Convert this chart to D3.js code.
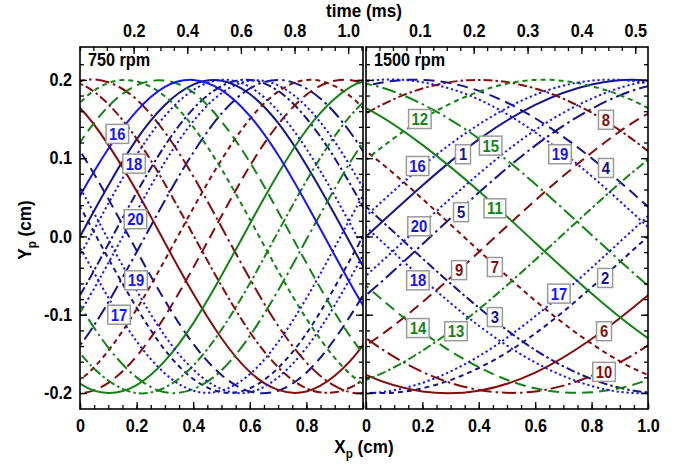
<!DOCTYPE html>
<html><head><meta charset="utf-8">
<script src="https://cdn.jsdelivr.net/npm/d3@7"></script>
<style>
html,body{margin:0;padding:0;background:#fff;}
svg{display:block;}
text{font-family:"Liberation Sans",Arial,Helvetica,sans-serif;font-weight:bold;}
</style></head><body>
<svg id="chart" width="683" height="466"></svg>
<script>
// ---------------- data ----------------
const curveIds = d3.range(1, 21);
const xLeft  = [-0.1, 0, 0.1, 0.2, 0.3, 0.4, 0.5, 0.6, 0.7, 0.8, 0.9, 1.0, 1.1];
const xRight = [-0.2, 0, 0.2, 0.4, 0.6, 0.8, 1.0, 1.2];

// 750 rpm panel : Y_p (cm) of trajectories 1..20 at xLeft
const yLeft = [
 [-0.065, 0, 0.065, 0.124, 0.168, 0.194, 0.199, 0.182, 0.145, 0.091, 0.028, -0.038, -0.100],
 [0.100, 0.038, -0.028, -0.091, -0.145, -0.182, -0.199, -0.194, -0.168, -0.124, -0.065, 0, 0.065],
 [-0.131, -0.075, -0.010, 0.056, 0.116, 0.163, 0.192, 0.200, 0.186, 0.151, 0.100, 0.038, -0.028],
 [0.158, 0.109, 0.048, -0.018, -0.082, -0.137, -0.177, -0.198, -0.197, -0.174, -0.131, -0.075, -0.010],
 [-0.178, -0.139, -0.084, -0.020, 0.046, 0.107, 0.157, 0.189, 0.200, 0.189, 0.158, 0.109, 0.048],
 [0.192, 0.164, 0.117, 0.058, -0.008, -0.073, -0.130, -0.173, -0.196, -0.198, -0.178, -0.139, -0.084],
 [-0.199, -0.183, -0.146, -0.093, -0.030, 0.036, 0.098, 0.150, 0.185, 0.200, 0.192, 0.164, 0.117],
 [0.199, 0.195, 0.169, 0.125, 0.067, 0.002, -0.063, -0.122, -0.167, -0.194, -0.199, -0.183, -0.146],
 [-0.191, -0.200, -0.187, -0.153, -0.102, -0.040, 0.026, 0.090, 0.143, 0.181, 0.199, 0.195, 0.169],
 [0.176, 0.198, 0.197, 0.175, 0.133, 0.077, 0.012, -0.054, -0.114, -0.161, -0.191, -0.200, -0.187],
 [-0.155, -0.188, -0.200, -0.190, -0.159, -0.111, -0.050, 0.016, 0.080, 0.136, 0.176, 0.198, 0.197],
 [0.128, 0.171, 0.196, 0.198, 0.179, 0.140, 0.086, 0.022, -0.044, -0.105, -0.155, -0.188, -0.200],
 [-0.097, -0.149, -0.184, -0.200, -0.193, -0.165, -0.119, -0.060, 0.006, 0.071, 0.128, 0.171, 0.196],
 [0.061, 0.120, 0.166, 0.193, 0.199, 0.184, 0.147, 0.095, 0.032, -0.034, -0.097, -0.149, -0.184],
 [-0.024, -0.088, -0.142, -0.180, -0.199, -0.195, -0.171, -0.127, -0.069, -0.004, 0.061, 0.120, 0.166],
 [-0.014, 0.052, 0.112, 0.160, 0.191, 0.200, 0.187, 0.154, 0.104, 0.042, -0.024, -0.088, -0.142],
 [0.052, -0.014, -0.078, -0.134, -0.175, -0.197, -0.197, -0.176, -0.135, -0.079, -0.014, 0.052, 0.112],
 [-0.088, -0.024, 0.042, 0.104, 0.154, 0.187, 0.200, 0.191, 0.160, 0.112, 0.052, -0.014, -0.078],
 [0.121, 0.062, -0.004, -0.069, -0.127, -0.170, -0.195, -0.199, -0.180, -0.142, -0.088, -0.024, 0.042],
 [-0.149, -0.097, -0.034, 0.032, 0.095, 0.147, 0.183, 0.199, 0.193, 0.166, 0.121, 0.062, -0.004]
];

// 1500 rpm panel : Y_p (cm) of trajectories 1..20 at xRight
const yRight = [
 [-0.065, 0, 0.065, 0.124, 0.168, 0.194, 0.199, 0.182],
 [-0.182, -0.199, -0.194, -0.168, -0.124, -0.065, 0, 0.065],
 [0.100, 0.038, -0.028, -0.091, -0.145, -0.182, -0.199, -0.194],
 [0.163, 0.192, 0.200, 0.186, 0.151, 0.100, 0.038, -0.028],
 [-0.131, -0.075, -0.010, 0.056, 0.116, 0.163, 0.192, 0.200],
 [-0.137, -0.177, -0.198, -0.197, -0.174, -0.131, -0.075, -0.010],
 [0.158, 0.109, 0.048, -0.018, -0.082, -0.137, -0.177, -0.198],
 [0.107, 0.157, 0.189, 0.200, 0.189, 0.158, 0.109, 0.048],
 [-0.178, -0.139, -0.084, -0.020, 0.046, 0.107, 0.157, 0.189],
 [-0.073, -0.130, -0.173, -0.196, -0.198, -0.178, -0.139, -0.084],
 [0.192, 0.164, 0.117, 0.058, -0.008, -0.073, -0.130, -0.173],
 [0.036, 0.098, 0.150, 0.185, 0.200, 0.192, 0.164, 0.117],
 [-0.199, -0.183, -0.146, -0.093, -0.030, 0.036, 0.098, 0.150],
 [0.002, -0.063, -0.122, -0.167, -0.194, -0.199, -0.183, -0.146],
 [0.199, 0.195, 0.169, 0.125, 0.067, 0.002, -0.063, -0.122],
 [-0.040, 0.026, 0.090, 0.143, 0.181, 0.199, 0.195, 0.169],
 [-0.191, -0.200, -0.187, -0.153, -0.102, -0.040, 0.026, 0.090],
 [0.077, 0.012, -0.054, -0.114, -0.161, -0.191, -0.200, -0.187],
 [0.176, 0.198, 0.197, 0.175, 0.133, 0.077, 0.012, -0.054],
 [-0.111, -0.050, 0.016, 0.080, 0.136, 0.176, 0.198, 0.197]
];

// curve labels (id, X_p, Y_p)
const labelIdsLeft = [16, 18, 20, 19, 17];
const labelXLeft   = [0.132, 0.191, 0.196, 0.198, 0.138];
const labelYLeft   = [0.131, 0.093, 0.022, -0.056, -0.100];
const labelIdsRight = [1, 2, 3, 4, 5, 6, 7, 8, 9, 10, 11, 12, 13, 14, 15, 16, 17, 18, 19, 20];
const labelXRight = [0.344, 0.848, 0.457, 0.851, 0.337, 0.844, 0.457, 0.851, 0.330, 0.844,
                     0.457, 0.191, 0.319, 0.184, 0.442, 0.183, 0.684, 0.184, 0.688, 0.188];
const labelYRight = [0.105, -0.053, -0.103, 0.0875, 0.031, -0.121, -0.039, 0.149, -0.043, -0.173,
                     0.036, 0.150, -0.121, -0.117, 0.116, 0.090, -0.073, -0.056, 0.105, 0.013];

const panelTitles = ["750 rpm", "1500 rpm"];
const timeSpan = [1.0554, 0.5237];              // ms across 1 cm
const timeTicksLeft = [0.2, 0.4, 0.6, 0.8, 1.0];
const timeTicksRight = [0.1, 0.2, 0.3, 0.4, 0.5];
const xTicks = [0, 0.2, 0.4, 0.6, 0.8, 1.0];
const xTickLabelsLeft = [0, 0.2, 0.4, 0.6, 0.8];
const xTickLabelsRight = [0, 0.2, 0.4, 0.6, 0.8, 1.0];
const yTicks = [-0.2, -0.1, 0, 0.1, 0.2];
const groupColors = ["#14148f", "#860c0c", "#138313", "#1414ff"];

// ---------------- drawing ----------------
const svg = d3.select("#chart");
const SX = 0.9;
const yScale = d3.scaleLinear().domain([-0.2204, 0.242]).range([409, 47]);
const plotTop = 47, plotBottom = 409;

function dashFor(id, pi) {
  const g = Math.floor((id - 1) / 5), m = (id - 1) % 5;
  if (g === 3 && (m > 0 || pi === 1)) return "2.2,2.8";
  if (m === 0) return null;
  return [null, "5,4", "9,3,2.5,3", "11,6", "14,4,2.5,4"][m];
}
function colorFor(id) { return groupColors[Math.floor((id - 1) / 5)]; }

function stext(parent, x, y, str, size, anchor, color) {
  const g = parent.append("g").attr("transform", `translate(${x},${y}) scale(${SX},1)`);
  return g.append("text").attr("text-anchor", anchor).attr("font-size", size)
    .attr("fill", color || "#000").text(str);
}
function condenseAxisText(sel, size) {
  sel.attr("font-family", null).attr("font-size", null);
  sel.selectAll(".tick text").each(function () {
    const t = d3.select(this);
    const x = +t.attr("x") || 0, y = +t.attr("y") || 0;
    t.attr("x", 0).attr("y", 0).attr("font-size", size).attr("fill", "#000")
      .attr("transform", `translate(${x},${y}) scale(${SX},1)`);
  });
  sel.selectAll(".tick line").attr("stroke", "#000").attr("stroke-width", 1.3);
  sel.select(".domain").remove();
}

const panels = [
  { x0: 80, x1: 363, xs: xLeft, ys: yLeft, lid: labelIdsLeft, lx: labelXLeft, ly: labelYLeft,
    tMajor: timeTicksLeft, tStep: 0.05, xLab: xTickLabelsLeft },
  { x0: 366, x1: 648, xs: xRight, ys: yRight, lid: labelIdsRight, lx: labelXRight, ly: labelYRight,
    tMajor: timeTicksRight, tStep: 0.025, xLab: xTickLabelsRight }
];

panels.forEach((p, pi) => {
  const xScale = d3.scaleLinear().domain([0, 1]).range([p.x0, p.x1]);
  const tScale = d3.scaleLinear().domain([0, timeSpan[pi]]).range([p.x0, p.x1]);
  const clipId = "clip" + pi;
  svg.append("clipPath").attr("id", clipId).append("rect")
    .attr("x", p.x0).attr("y", plotTop).attr("width", p.x1 - p.x0).attr("height", plotBottom - plotTop);

  const gCurves = svg.append("g").attr("clip-path", `url(#${clipId})`);
  const line = d3.line().x((d, i) => xScale(p.xs[i])).y(d => yScale(d)).curve(d3.curveNatural);
  curveIds.forEach((id, k) => {
    gCurves.append("path").attr("d", line(p.ys[k]))
      .attr("fill", "none").attr("stroke", colorFor(id)).attr("stroke-width", 2)
      .attr("stroke-dasharray", dashFor(id, pi));
  });

  // frame
  svg.append("rect").attr("x", p.x0).attr("y", plotTop).attr("width", p.x1 - p.x0)
    .attr("height", plotBottom - plotTop).attr("fill", "none").attr("stroke", "#000").attr("stroke-width", 1.6);

  // bottom axis
  const xMinor = d3.range(0, 21).map(i => i * 0.05);
  svg.append("g").attr("transform", `translate(0,${plotBottom})`)
    .call(d3.axisBottom(xScale).tickValues(xMinor).tickSize(-4).tickFormat(""))
    .call(s => condenseAxisText(s, 18));
  svg.append("g").attr("transform", `translate(0,${plotBottom})`)
    .call(d3.axisBottom(xScale).tickValues(xTicks).tickSize(-7).tickPadding(10)
      .tickFormat(d => p.xLab.includes(d) ? (d === 0 ? "0" : d.toFixed(1)) : ""))
    .call(s => condenseAxisText(s, 18));

  // top (time) axis
  const nT = Math.floor(timeSpan[pi] / p.tStep + 1e-6);
  const tMinor = d3.range(0, nT + 1).map(i => i * p.tStep);
  svg.append("g").attr("transform", `translate(0,${plotTop})`)
    .call(d3.axisTop(tScale).tickValues(tMinor).tickSize(-4).tickFormat(""))
    .call(s => condenseAxisText(s, 18));
  svg.append("g").attr("transform", `translate(0,${plotTop})`)
    .call(d3.axisTop(tScale).tickValues(p.tMajor).tickSize(-7).tickPadding(10)
      .tickFormat(d => d.toFixed(1)))
    .call(s => condenseAxisText(s, 18));

  // left / right y ticks
  const yMinor = d3.range(-10, 12).map(i => i * 0.02);
  svg.append("g").attr("transform", `translate(${p.x0},0)`)
    .call(d3.axisLeft(yScale).tickValues(yMinor).tickSize(-4).tickFormat(""))
    .call(s => condenseAxisText(s, 18));
  svg.append("g").attr("transform", `translate(${p.x0},0)`)
    .call(d3.axisLeft(yScale).tickValues(yTicks).tickSize(-7).tickPadding(8)
      .tickFormat(d => pi === 0 ? d.toFixed(1) : ""))
    .call(s => condenseAxisText(s, 18));
  svg.append("g").attr("transform", `translate(${p.x1},0)`)
    .call(d3.axisRight(yScale).tickValues(yMinor).tickSize(-4).tickFormat(""))
    .call(s => condenseAxisText(s, 18));
  svg.append("g").attr("transform", `translate(${p.x1},0)`)
    .call(d3.axisRight(yScale).tickValues(yTicks).tickSize(-7).tickFormat(""))
    .call(s => condenseAxisText(s, 18));

  // panel title
  stext(svg, p.x0 + 8, 66, panelTitles[pi], 18, "start");

  // curve labels
  p.lid.forEach((id, k) => {
    const g = svg.append("g").attr("transform", `translate(${xScale(p.lx[k])},${yScale(p.ly[k])})`);
    const rect = g.append("rect");
    const t = stext(g, 0, 0, String(id), 16.5, "middle", colorFor(id)).attr("dy", "0.36em");
    const w = Math.max(t.node().getComputedTextLength() * SX + 6, 15);
    rect.attr("x", -w / 2).attr("y", -9.5).attr("width", w).attr("height", 19)
      .attr("fill", "#fff").attr("stroke", "#9a9a9a").attr("stroke-width", 1.5);
  });
});

// axis titles
stext(svg, 364, 17, "time (ms)", 19, "middle");
{
  const g = svg.append("g").attr("transform", `translate(364,453) scale(${SX},1)`);
  const t = g.append("text").attr("text-anchor", "middle").attr("font-size", 19);
  t.append("tspan").text("X");
  t.append("tspan").attr("font-size", 13).attr("dy", 5).text("p");
  t.append("tspan").attr("dy", -5).text(" (cm)");
}
{
  const g = svg.append("g").attr("transform", `translate(31,230) rotate(-90) scale(${SX},1)`);
  const t = g.append("text").attr("text-anchor", "middle").attr("font-size", 19);
  t.append("tspan").text("Y");
  t.append("tspan").attr("font-size", 13).attr("dy", 5).text("p");
  t.append("tspan").attr("dy", -5).text(" (cm)");
}
</script>
</body></html>
